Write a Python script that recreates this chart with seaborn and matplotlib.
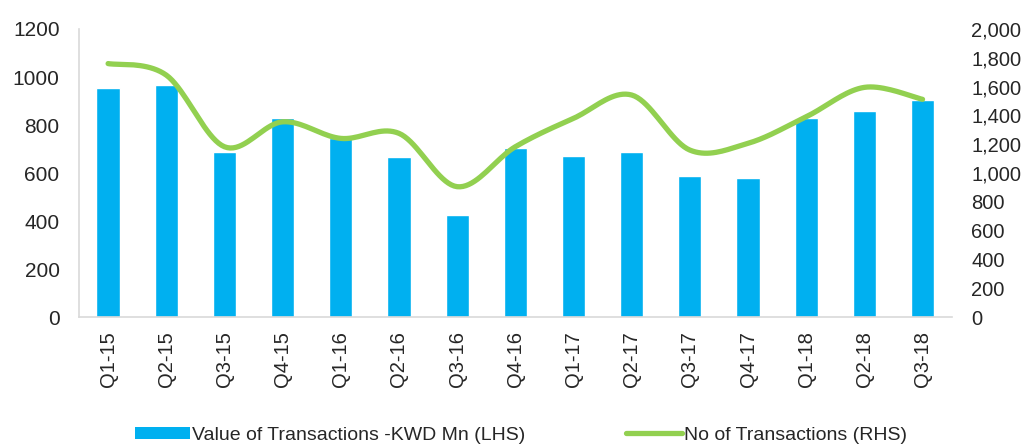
import numpy as np
import pandas as pd
import matplotlib
matplotlib.use("Agg")
import matplotlib.pyplot as plt
import seaborn as sns
from matplotlib.patches import Patch
from matplotlib.lines import Line2D

quarters = ["Q1-15", "Q2-15", "Q3-15", "Q4-15", "Q1-16", "Q2-16", "Q3-16", "Q4-16",
            "Q1-17", "Q2-17", "Q3-17", "Q4-17", "Q1-18", "Q2-18", "Q3-18"]
value_kwd_mn = [953, 967, 687, 831, 746, 666, 426, 703, 672, 688, 588, 580, 831, 858, 905]
no_transactions = [1760, 1680, 1183, 1356, 1241, 1276, 906, 1183, 1380, 1542, 1160, 1207, 1391, 1595, 1512]

BLUE = "#00B0F0"
GREEN = "#92D050"


def smooth(y, n=20):
    # catmull-rom style smoothing, like excel's "smoothed line"
    y = np.asarray(y, dtype=float)
    x = np.arange(len(y), dtype=float)
    pts = np.column_stack([x, y])
    ext = np.vstack([pts[0], pts, pts[-1]])
    out = []
    t = np.linspace(0, 1, n, endpoint=False)[:, None]
    for i in range(1, len(ext) - 2):
        p0, p1, p2, p3 = ext[i - 1], ext[i], ext[i + 1], ext[i + 2]
        c1 = p1 + (p2 - p0) / 6
        c2 = p2 - (p3 - p1) / 6
        seg = ((1 - t) ** 3) * p1 + 3 * ((1 - t) ** 2) * t * c1 + 3 * (1 - t) * t ** 2 * c2 + t ** 3 * p2
        out.append(seg)
    out.append(pts[-1:])
    out = np.vstack(out)
    return out[:, 0], out[:, 1]


sns.set_style("white")
plt.rcParams["font.family"] = ["Liberation Sans", "DejaVu Sans"]

fig = plt.figure(figsize=(10.29, 4.44), dpi=100)
ax = fig.add_axes([0.0768, 0.2854, 0.848, 0.6493])

df = pd.DataFrame({"quarter": quarters, "value": value_kwd_mn})
sns.barplot(data=df, x="quarter", y="value", color=BLUE, saturation=1, width=0.4, ax=ax)
ax.set_xlim(-0.5, len(quarters) - 0.5)
ax.set_ylim(0, 1200)
ax.set_yticks(range(0, 1201, 200))
ax.set_xlabel("")
ax.set_ylabel("")
ax.tick_params(axis="x", labelrotation=90, labelsize=14.5, pad=10, length=0)
ax.tick_params(axis="y", labelsize=15, pad=14, length=0)
for s in ["top", "right"]:
    ax.spines[s].set_visible(False)
for s in ["left", "bottom"]:
    ax.spines[s].set_color("#D9D9D9")
    ax.spines[s].set_linewidth(1.2)

ax2 = ax.twinx()
sx, sy = smooth(no_transactions)
ax2.plot(sx, sy, color=GREEN, lw=3.8, solid_capstyle="round")
ax2.set_ylim(0, 2000)
ax2.set_yticks(range(0, 2001, 200))
ax2.set_yticklabels([f"{v:,}" for v in range(0, 2001, 200)])
ax2.tick_params(axis="y", labelsize=14.5, pad=14, length=0)
for s in ax2.spines.values():
    s.set_visible(False)
ax2.set_xlim(-0.5, len(quarters) - 0.5)

handles = [Patch(facecolor=BLUE, edgecolor="none"),
           Line2D([0], [0], color=GREEN, lw=3.8, solid_capstyle="round")]
labels = ["Value of Transactions -KWD Mn (LHS)", "No of Transactions (RHS)"]
fig.legend(handles, labels, loc="center", bbox_to_anchor=(0.506, 0.02), ncol=2,
           frameon=False, handlelength=2.85, handleheight=0.55, handletextpad=0.1,
           columnspacing=5.2,
           prop={"family": ["Liberation Sans Narrow", "Liberation Sans", "DejaVu Sans"], "size": 14})

fig.savefig("out.png", dpi=100)
